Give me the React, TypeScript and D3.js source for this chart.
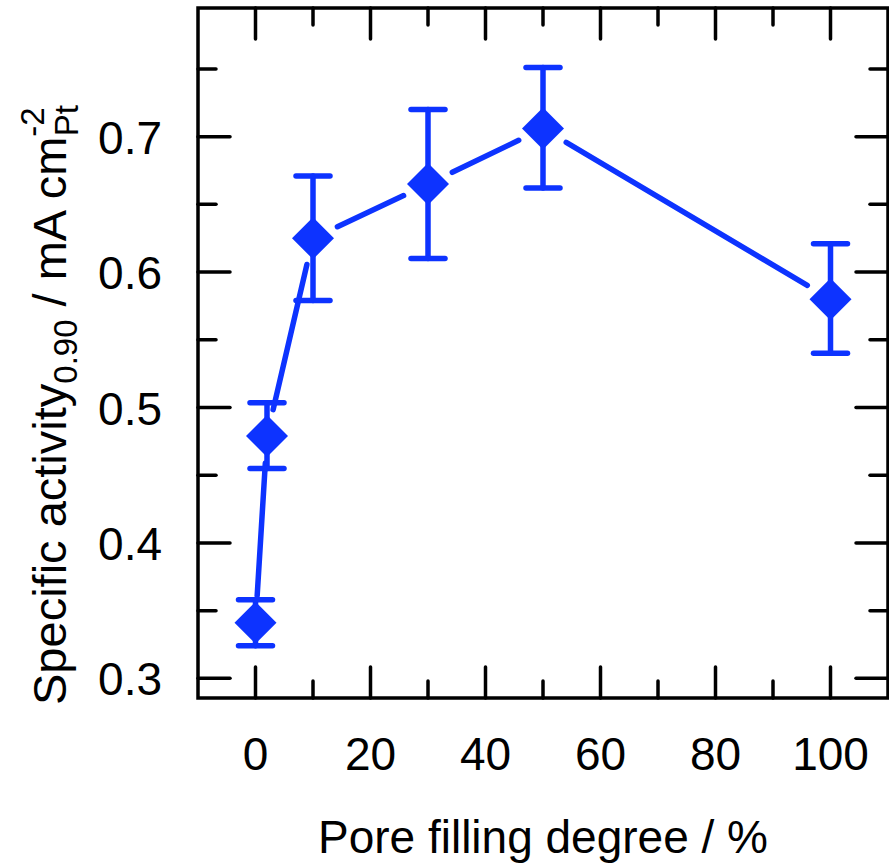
import React from "react";
import * as d3 from "d3";

const poreFilling = [0, 2, 10, 30, 50, 100];
const activity = [0.341, 0.479, 0.625, 0.665, 0.706, 0.58];
const errHigh = [0.358, 0.5035, 0.671, 0.72, 0.751, 0.621];
const errLow = [0.324, 0.455, 0.579, 0.61, 0.662, 0.54];
const xMajorTicks = [0, 20, 40, 60, 80, 100];
const xMinorTicks = [10, 30, 50, 70, 90];
const yMajorTicks = [0.3, 0.4, 0.5, 0.6, 0.7];
const yMinorTicks = [0.35, 0.45, 0.55, 0.65, 0.75];

const W = 889;
const H = 864;
const L = 198, R = 888, T = 8, B = 698;
const BLUE = "#0d33ff";
const FONT = "'Liberation Sans', Arial, Helvetica, sans-serif";

export default function App() {
  const x = d3.scaleLinear().domain([-10, 110]).range([L, R]);
  const y = d3.scaleLinear().domain([0.2855, 0.795]).range([B, T]);

  const pts = poreFilling.map((v, i) => ({
    x: x(v), y: y(activity[i]), hi: y(errHigh[i]), lo: y(errLow[i]),
  }));

  const gap = 27;
  const segs = [] as { x1: number; y1: number; x2: number; y2: number }[];
  for (let i = 0; i < pts.length - 1; i++) {
    const a = pts[i], b = pts[i + 1];
    const dx = b.x - a.x, dy = b.y - a.y;
    const len = Math.hypot(dx, dy);
    const ux = dx / len, uy = dy / len;
    if (len > 2 * gap) {
      segs.push({ x1: a.x + ux * gap, y1: a.y + uy * gap, x2: b.x - ux * gap, y2: b.y - uy * gap });
    }
  }

  const d = 21;
  const cap = 17;
  const tickStroke = 3.5;

  return (
    <svg width={W} height={H} style={{ position: "absolute", left: 0, top: 0, background: "#fff" }}>
      <rect x={0} y={0} width={W} height={H} fill="#fff" />
      {/* ticks */}
      <g stroke="#000" strokeWidth={tickStroke} strokeLinecap="round">
        {xMajorTicks.map((t) => (
          <g key={"xM" + t}>
            <line x1={x(t)} x2={x(t)} y1={B} y2={B - 31} />
            <line x1={x(t)} x2={x(t)} y1={T} y2={T + 31} />
          </g>
        ))}
        {xMinorTicks.map((t) => (
          <g key={"xm" + t}>
            <line x1={x(t)} x2={x(t)} y1={B} y2={B - 17} />
            <line x1={x(t)} x2={x(t)} y1={T} y2={T + 17} />
          </g>
        ))}
        {yMajorTicks.map((t) => (
          <g key={"yM" + t}>
            <line x1={L} x2={L + 32} y1={y(t)} y2={y(t)} />
            <line x1={R} x2={R - 32} y1={y(t)} y2={y(t)} />
          </g>
        ))}
        {yMinorTicks.map((t) => (
          <g key={"ym" + t}>
            <line x1={L} x2={L + 18} y1={y(t)} y2={y(t)} />
            <line x1={R} x2={R - 18} y1={y(t)} y2={y(t)} />
          </g>
        ))}
      </g>
      <rect x={L} y={T} width={R - L} height={B - T} fill="none" stroke="#000" strokeWidth={3.5} />

      {/* tick labels */}
      <g fontFamily={FONT} fontSize={46} fill="#000">
        {xMajorTicks.map((t) => (
          <text key={"xl" + t} x={x(t)} y={770} textAnchor="middle">{t}</text>
        ))}
        {yMajorTicks.map((t) => (
          <text key={"yl" + t} x={162} y={y(t) + 17} textAnchor="end">{t.toFixed(1)}</text>
        ))}
      </g>

      {/* axis titles */}
      <text x={(L + R) / 2} y={853} textAnchor="middle" fontFamily={FONT} fontSize={46} fill="#000">
        Pore filling degree / %
      </text>
      <text transform="translate(66,705) rotate(-90)" fontFamily={FONT} fontSize={47} fill="#000">
        <tspan>Specific activity</tspan>
        <tspan fontSize={33} dy={11}>0.90</tspan>
        <tspan dy={-11}>{" / mA cm"}</tspan>
        <tspan fontSize={33} dy={-22}>-2</tspan>
        <tspan fontSize={33} dx={-29} dy={34}>Pt</tspan>
      </text>

      {/* connecting line */}
      <g stroke={BLUE} strokeWidth={5.5} strokeLinecap="round">
        {segs.map((s, i) => (
          <line key={"s" + i} x1={s.x1} y1={s.y1} x2={s.x2} y2={s.y2} />
        ))}
      </g>
      {/* error bars */}
      <g stroke={BLUE} strokeWidth={5.5} strokeLinecap="round">
        {pts.map((p, i) => (
          <g key={"e" + i}>
            <line x1={p.x} x2={p.x} y1={p.hi} y2={p.lo} />
            <line x1={p.x - cap} x2={p.x + cap} y1={p.hi} y2={p.hi} />
            <line x1={p.x - cap} x2={p.x + cap} y1={p.lo} y2={p.lo} />
          </g>
        ))}
      </g>
      {/* markers */}
      <g fill={BLUE}>
        {pts.map((p, i) => (
          <path key={"m" + i} d={`M${p.x},${p.y - d}L${p.x + d},${p.y}L${p.x},${p.y + d}L${p.x - d},${p.y}Z`} />
        ))}
      </g>
    </svg>
  );
}
